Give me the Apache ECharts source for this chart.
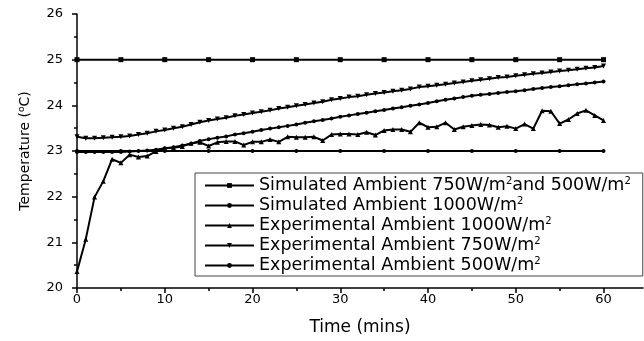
<!DOCTYPE html>
<html>
<head>
<meta charset="utf-8">
<title>Temperature vs time</title>
<script src="https://cdn.jsdelivr.net/npm/echarts@6/dist/echarts.min.js"></script>
<style>
  html, body { margin: 0; padding: 0; background: #fff; }
  #main { width: 644px; height: 341px; }
</style>
</head>
<body>
<div id="main"></div>
<script>
// time axis (minutes)
var minutes = [0, 1, 2, 3, 4, 5, 6, 7, 8, 9, 10, 11, 12, 13, 14, 15, 16, 17, 18, 19, 20,
  21, 22, 23, 24, 25, 26, 27, 28, 29, 30, 31, 32, 33, 34, 35, 36, 37, 38, 39, 40,
  41, 42, 43, 44, 45, 46, 47, 48, 49, 50, 51, 52, 53, 54, 55, 56, 57, 58, 59, 60];
var simMinutes = [0, 5, 10, 15, 20, 25, 30, 35, 40, 45, 50, 55, 60];

// simulated
var sim750and500 = [25, 25, 25, 25, 25, 25, 25, 25, 25, 25, 25, 25, 25];
var sim1000 = [23, 23, 23, 23, 23, 23, 23, 23, 23, 23, 23, 23, 23];

// experimental
var exp1000 = [20.36, 21.07, 21.99, 22.34, 22.82, 22.74, 22.92, 22.87, 22.89, 22.99, 23.06,
  23.07, 23.10, 23.17, 23.19, 23.11, 23.19, 23.21, 23.21, 23.13, 23.20,
  23.20, 23.25, 23.20, 23.31, 23.30, 23.30, 23.31, 23.23, 23.36, 23.37,
  23.37, 23.36, 23.41, 23.35, 23.45, 23.47, 23.47, 23.42, 23.62, 23.52,
  23.53, 23.62, 23.47, 23.53, 23.56, 23.58, 23.57, 23.52, 23.54, 23.49,
  23.59, 23.49, 23.88, 23.87, 23.60, 23.69, 23.82, 23.89, 23.78, 23.67];
var exp750 = [23.31, 23.28, 23.28, 23.29, 23.30, 23.31, 23.33, 23.36, 23.39, 23.43, 23.46,
  23.50, 23.53, 23.58, 23.63, 23.67, 23.70, 23.73, 23.77, 23.80, 23.83,
  23.86, 23.89, 23.93, 23.96, 23.99, 24.02, 24.05, 24.08, 24.12, 24.15,
  24.18, 24.20, 24.23, 24.26, 24.28, 24.31, 24.33, 24.36, 24.40, 24.42,
  24.44, 24.46, 24.49, 24.51, 24.54, 24.56, 24.58, 24.61, 24.62, 24.65,
  24.67, 24.69, 24.71, 24.73, 24.75, 24.77, 24.79, 24.81, 24.83, 24.86];
var exp500 = [22.98, 22.98, 22.98, 22.98, 22.98, 22.98, 22.99, 23.00, 23.01, 23.03, 23.06,
  23.08, 23.12, 23.16, 23.22, 23.26, 23.29, 23.32, 23.36, 23.39, 23.42,
  23.46, 23.49, 23.52, 23.55, 23.58, 23.62, 23.65, 23.68, 23.71, 23.75,
  23.78, 23.81, 23.84, 23.87, 23.90, 23.93, 23.96, 23.99, 24.02, 24.05,
  24.09, 24.12, 24.15, 24.18, 24.21, 24.23, 24.25, 24.27, 24.29, 24.31,
  24.33, 24.36, 24.38, 24.40, 24.42, 24.44, 24.46, 24.48, 24.50, 24.52];

var seriesNames = ['Simulated Ambient 750W/m2and 500W/m2', 'Simulated Ambient 1000W/m2',
  'Experimental Ambient 1000W/m2', 'Experimental Ambient 750W/m2', 'Experimental Ambient 500W/m2'];
var legendLabels = ['Simulated Ambient 750W/m{s|2}and 500W/m{s|2}', 'Simulated Ambient 1000W/m{s|2}',
  'Experimental Ambient 1000W/m{s|2}', 'Experimental Ambient 750W/m{s|2}', 'Experimental Ambient 500W/m{s|2}'];
var xMajorTicks = [0, 10, 20, 30, 40, 50, 60];
var xMinorTicks = [5, 15, 25, 35, 45, 55];

var FONT = 'DejaVu Sans';

function pairs(xs, ys) {
  return xs.map(function (x, i) { return [x, ys[i]]; });
}

function lineSeries(name, data, symbol, size) {
  return {
    name: name,
    type: 'line',
    data: data,
    symbol: symbol,
    symbolSize: size,
    showAllSymbol: true,
    itemStyle: { color: '#000' },
    lineStyle: { color: '#000', width: 2 },
    emphasis: { disabled: true }
  };
}

var myChart = echarts.init(document.getElementById('main'));

var option = {
  animation: false,
  grid: { left: 77, right: 1, top: 14, bottom: 46 },
  legend: {
    orient: 'vertical',
    left: 195,
    top: 173,
    padding: [3, 12, 1, 9],
    itemWidth: 49,
    itemHeight: 6,
    itemGap: 1,
    backgroundColor: '#fff',
    borderColor: '#444',
    borderWidth: 1,
    data: seriesNames,
    formatter: function (name) {
      return legendLabels[seriesNames.indexOf(name)];
    },
    textStyle: {
      fontFamily: FONT,
      fontSize: 17.5,
      color: '#000',
      lineHeight: 19,
      rich: {
        s: { fontFamily: FONT, fontSize: 10, color: '#000', padding: [0, 0, 8, 0] }
      }
    }
  },
  xAxis: [
    {
      type: 'value',
      min: 0,
      max: 64.5,
      interval: 10,
      name: 'Time (mins)',
      nameLocation: 'middle',
      nameGap: 31,
      nameTextStyle: { fontFamily: FONT, fontSize: 17, color: '#000' },
      axisLine: { lineStyle: { color: '#000', width: 1.5 } },
      axisTick: { customValues: xMajorTicks, length: 5, lineStyle: { color: '#000', width: 1.5 } },
      axisLabel: { customValues: xMajorTicks, margin: 5, color: '#000', fontFamily: FONT, fontSize: 13 },
      splitLine: { show: false }
    },
    {
      // minor ticks only
      type: 'value',
      min: 0,
      max: 64.5,
      position: 'bottom',
      axisLine: { show: false },
      axisTick: { customValues: xMinorTicks, length: 3, lineStyle: { color: '#000', width: 1.5 } },
      axisLabel: { show: false },
      splitLine: { show: false }
    }
  ],
  yAxis: {
    type: 'value',
    min: 20,
    max: 26,
    interval: 1,
    name: '{n|Temperature (}{s|o}{n|C)}',
    nameLocation: 'middle',
    nameGap: 43,
    nameRotate: 90,
    nameTextStyle: {
      color: '#000',
      rich: {
        n: { fontFamily: FONT, fontSize: 14, color: '#000' },
        s: { fontFamily: FONT, fontSize: 9, color: '#000', padding: [0, 0, 8, 0] }
      }
    },
    axisLine: { show: true, lineStyle: { color: '#000', width: 1.5 } },
    axisTick: { show: true, length: 5, lineStyle: { color: '#000', width: 1.5 } },
    minorTick: { show: true, splitNumber: 2, length: 3, lineStyle: { color: '#000', width: 1.5 } },
    axisLabel: { margin: 14, color: '#000', fontFamily: FONT, fontSize: 13 },
    splitLine: { show: false }
  },
  series: [
    lineSeries(seriesNames[0], pairs(simMinutes, sim750and500), 'rect', 5),
    lineSeries(seriesNames[1], pairs(simMinutes, sim1000), 'circle', 4),
    lineSeries(seriesNames[2], pairs(minutes, exp1000), 'triangle', 5),
    lineSeries(seriesNames[3], pairs(minutes, exp750), 'path://M0,0L10,0L5,9Z', 5),
    lineSeries(seriesNames[4], pairs(minutes, exp500), 'circle', 4)
  ]
};

myChart.setOption(option);
</script>
</body>
</html>
